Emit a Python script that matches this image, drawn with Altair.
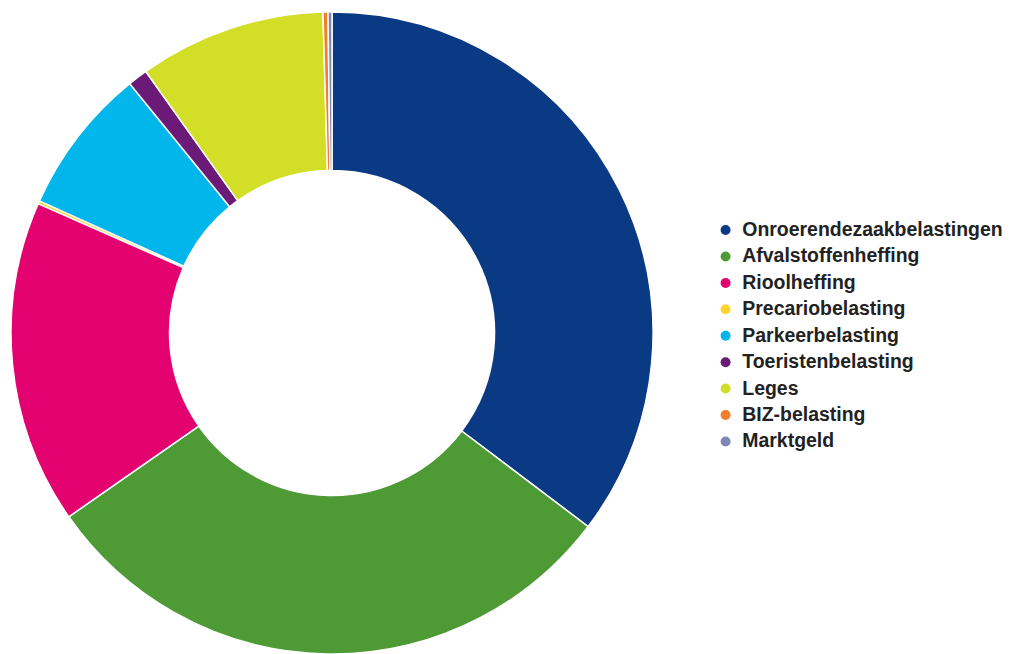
import altair as alt
import pandas as pd

categories = ["Onroerendezaakbelastingen", "Afvalstoffenheffing", "Rioolheffing",
              "Precariobelasting", "Parkeerbelasting", "Toeristenbelasting",
              "Leges", "BIZ-belasting", "Marktgeld"]
values = [35.3, 30.0, 16.3, 0.15, 7.4, 1.0, 9.4, 0.25, 0.2]
colors = ["#0b3a84", "#4e9a35", "#e3026f", "#fdd32c", "#00b6ea",
          "#6b1a78", "#d3de26", "#f17f2a", "#7f87b8"]

df = pd.DataFrame({"categorie": categories, "waarde": values,
                   "volgorde": list(range(len(categories)))})

chart = alt.Chart(df).mark_arc(
    outerRadius=322, innerRadius=163, stroke="white", strokeWidth=1.5
).encode(
    theta=alt.Theta("waarde:Q", stack=True),
    order=alt.Order("volgorde:Q"),
    color=alt.Color(
        "categorie:N",
        scale=alt.Scale(domain=categories, range=colors),
        sort=categories,
        legend=alt.Legend(
            title=None, orient="none", legendX=709, legendY=212,
            symbolType="circle", symbolSize=100, symbolStrokeWidth=0,
            labelFont="Liberation Sans", labelFontSize=19.5, labelFontWeight="bold",
            labelColor="#222222", rowPadding=5.5, labelOffset=7, labelLimit=400,
        ),
    ),
).properties(
    width=648, height=650, padding=0
).configure_view(stroke=None)

chart.save("out.html", embed_options={"renderer": "svg", "actions": False})
